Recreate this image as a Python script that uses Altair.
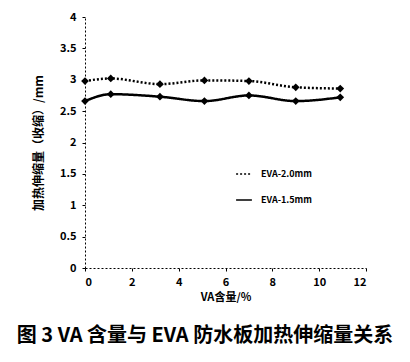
import altair as alt
import pandas as pd

va = [0, 1.1, 3.2, 5.1, 7.0, 9.0, 10.9]
eva20 = [2.98, 3.02, 2.93, 2.99, 2.98, 2.88, 2.86]
eva15 = [2.66, 2.77, 2.73, 2.66, 2.75, 2.66, 2.72]
series = ["EVA-2.0mm", "EVA-1.5mm"]
x_ticks = [0, 2, 4, 6, 8, 10, 12]
y_ticks = [0, 0.5, 1, 1.5, 2, 2.5, 3, 3.5, 4]

rows = []
for name, vals in zip(series, [eva20, eva15]):
    for x, y in zip(va, vals):
        rows.append({"VA": x, "val": y, "series": name})
df = pd.DataFrame(rows)

FONT = "Noto Sans CJK SC"

x_enc = alt.X("VA:Q", scale=alt.Scale(domain=[0, 12], nice=False),
              axis=alt.Axis(values=x_ticks, title="VA含量/%",
                            grid=False, domainDash=[2, 2], tickSize=3, format="~g",
                            labelFontSize=11, labelFontWeight="bold", labelPadding=5,
                            titleFontSize=11, titleFontWeight="bold", titlePadding=4,
                            labelFont=FONT, titleFont=FONT, labelOverlap=False))
y_enc = alt.Y("val:Q", scale=alt.Scale(domain=[0, 4], nice=False),
              axis=alt.Axis(values=y_ticks,
                            title="加热伸缩量（收缩）/mm", grid=False, format="~g",
                            domainDash=[2, 2], tickSize=3, labelOverlap=False,
                            labelFontSize=11, labelFontWeight="bold", labelPadding=6,
                            titleFontSize=12, titleFontWeight="bold", titlePadding=14,
                            labelFont=FONT, titleFont=FONT))

leg = alt.Legend(orient="none", legendX=150, legendY=148, title=None,
                 symbolType="stroke", symbolSize=250, symbolStrokeWidth=1.5,
                 labelFontSize=9, labelFontWeight="bold", labelFont=FONT,
                 rowPadding=12, labelOffset=8)
color = alt.Color("series:N", scale=alt.Scale(domain=series, range=["black", "black"]), legend=leg)
dash = alt.StrokeDash("series:N", scale=alt.Scale(domain=series, range=[[2, 2], [1, 0]]), legend=leg)

base = alt.Chart(df)
lines = base.mark_line(interpolate="monotone", strokeWidth=2.5).encode(
    x=x_enc, y=y_enc, color=color, strokeDash=dash)
points = base.mark_point(shape="diamond", filled=True, size=60, opacity=1, color="black").encode(
    x=x_enc, y=y_enc)

caption = alt.Chart(pd.DataFrame({"t": ["图 3 VA 含量与 EVA 防水板加热伸缩量关系"]})).mark_text(
    font=FONT, fontSize=20, fontWeight="bold", align="center", baseline="middle", color="black"
).encode(x=alt.value(120), y=alt.value(319), text="t:N")

chart = alt.layer(lines, points, caption).properties(
    width=281, height=251,
    autosize=alt.AutoSizeParams(type="none"),
    padding={"left": 77, "top": 9, "right": 30, "bottom": 88},
).configure_view(stroke=None).configure_axis(domainColor="black", tickColor="black",
                                              labelColor="black", titleColor="black")

chart.save("out.html", embed_options={"renderer": "svg", "actions": False})
